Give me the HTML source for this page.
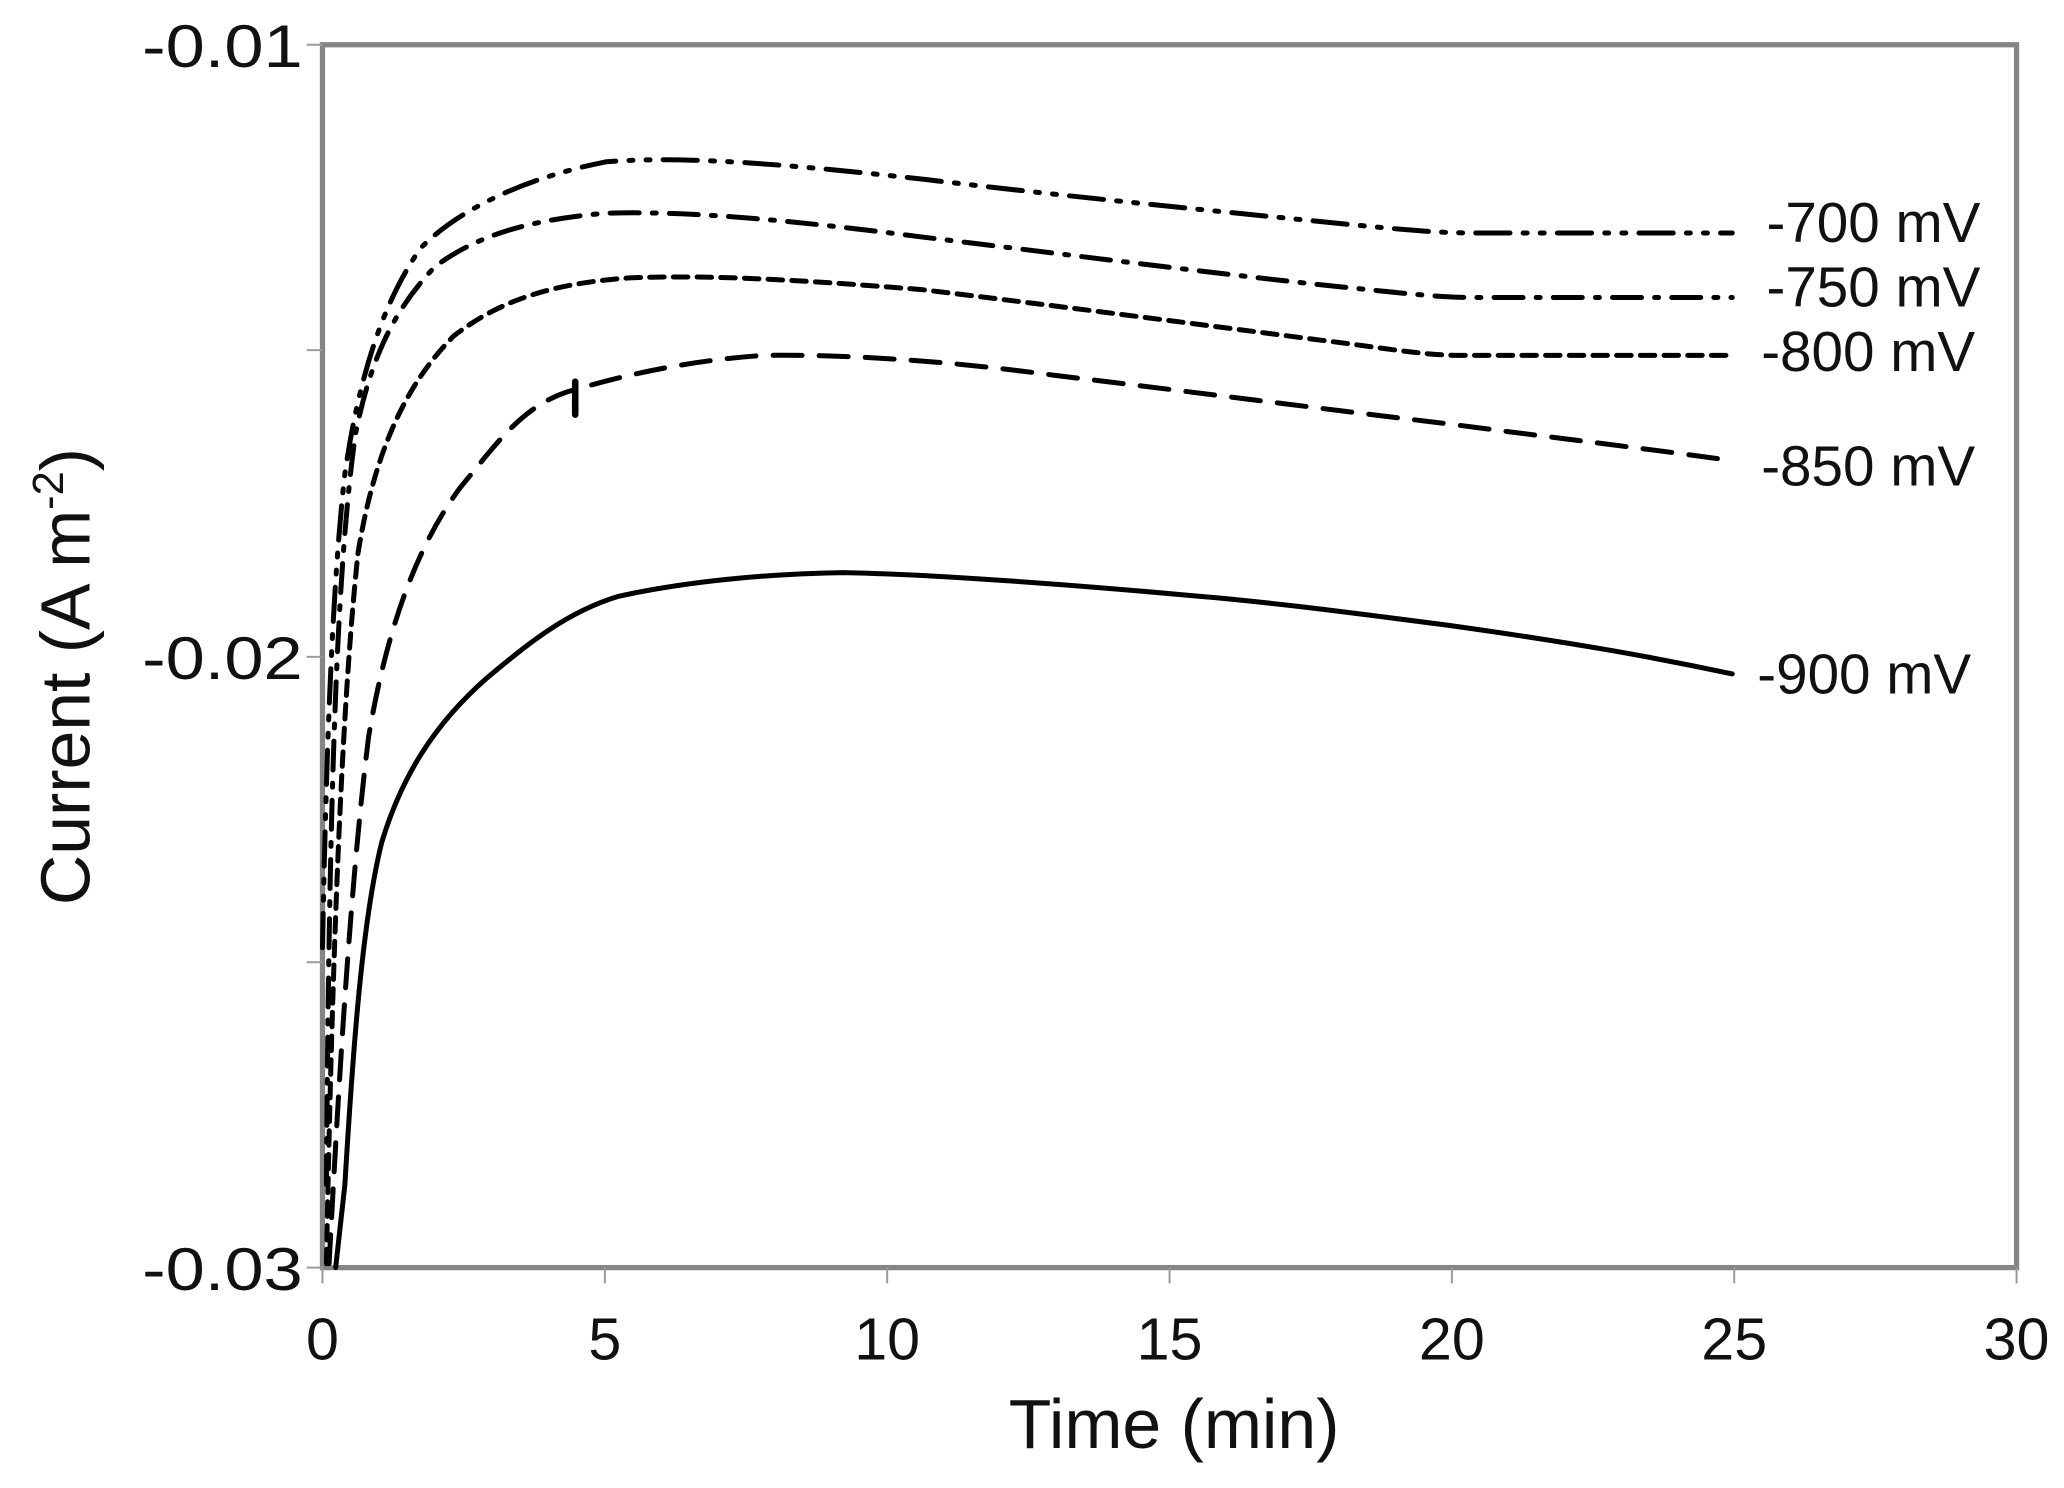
<!DOCTYPE html>
<html><head><meta charset="utf-8"><style>html,body{margin:0;padding:0;background:#fff;}svg{display:block}</style></head>
<body>
<svg width="2064" height="1488" viewBox="0 0 2064 1488" xmlns="http://www.w3.org/2000/svg">
<rect width="2064" height="1488" fill="#fff"/>
<g transform="scale(1.3163)" font-family="Liberation Sans, Arial, sans-serif" fill="#111">
  <rect x="245" y="34" width="1287" height="929" fill="none" stroke="#858585" stroke-width="4"/>
  <g stroke="#9a9a9a" stroke-width="1.5">
    <line x1="233" y1="34" x2="245" y2="34"/><line x1="233" y1="266" x2="245" y2="266"/>
    <line x1="233" y1="499" x2="245" y2="499"/><line x1="233" y1="731" x2="245" y2="731"/>
    <line x1="233" y1="963" x2="245" y2="963"/>
    <line x1="245" y1="963" x2="245" y2="975"/><line x1="459.5" y1="963" x2="459.5" y2="975"/>
    <line x1="674" y1="963" x2="674" y2="975"/><line x1="888.5" y1="963" x2="888.5" y2="975"/>
    <line x1="1103" y1="963" x2="1103" y2="975"/><line x1="1317.5" y1="963" x2="1317.5" y2="975"/>
    <line x1="1532" y1="963" x2="1532" y2="975"/>
  </g>
  <g font-size="46">
    <text x="108" y="51" textLength="122" lengthAdjust="spacingAndGlyphs">-0.01</text>
    <text x="108" y="516" textLength="122" lengthAdjust="spacingAndGlyphs">-0.02</text>
    <text x="108" y="980" textLength="122" lengthAdjust="spacingAndGlyphs">-0.03</text>
  </g>
  <g font-size="45" text-anchor="middle">
    <text x="245" y="1033">0</text><text x="459.5" y="1033">5</text><text x="674" y="1033">10</text>
    <text x="888.5" y="1033">15</text><text x="1103" y="1033">20</text><text x="1317.5" y="1033">25</text>
    <text x="1532" y="1033">30</text>
  </g>
  <text x="892" y="1100" font-size="53" text-anchor="middle">Time (min)</text>
  <text transform="translate(68,514) rotate(-90)" font-size="53" text-anchor="middle">Current (A m<tspan font-size="33" dy="-20">-2</tspan><tspan dy="20">)</tspan></text>
  <g fill="none" stroke="#000" stroke-width="3.8" stroke-linecap="round" stroke-linejoin="round">
    <path d="M255,963 L262,900 C268,800 275,700 290,640 C305,590 330,550 370,515 C400,490 430,465 470,453 C520,442 580,436 640,435 C700,436 800,443 900,452 C950,456 1000,462 1100,475 C1200,489 1260,500 1316,512"/>
    <path stroke-dasharray="22 13" d="M250,960 C256,850 265,680 280,560 C295,470 320,410 350,370 C375,340 395,310 430,298 C470,286 520,274 580,270 C640,269 720,274 800,285 C900,297 1000,310 1100,322 C1200,335 1260,342 1316,350"/>
    <path d="M437,290 L437,315" stroke-width="5"/>
    <path stroke-dasharray="11 7" d="M248,960 C251,800 257,560 272,420 C285,340 310,290 345,255 C380,228 420,215 480,211 C540,209 600,212 700,220 C800,232 900,245 1000,258 C1050,264 1080,270 1110,270 L1316,270"/>
    <path stroke-dasharray="22 10 3 10" d="M248,900 C250,600 256,430 270,330 C282,270 300,235 330,203 C360,180 400,167 460,162 C520,160 600,167 700,180 C800,192 900,205 1000,216 C1060,222 1090,226 1120,226 L1316,226"/>
    <path stroke-dasharray="26 10 3 10 3 10" d="M245,720 C248,560 253,440 262,360 C272,290 290,230 320,188 C350,158 400,135 460,123 C520,118 600,125 700,136 C800,148 900,158 1000,168 C1060,174 1090,177 1120,177 L1316,177"/>
  </g>
  <g font-size="43">
    <text x="1342" y="184">-700 mV</text>
    <text x="1342" y="233">-750 mV</text>
    <text x="1338" y="282">-800 mV</text>
    <text x="1338" y="369">-850 mV</text>
    <text x="1335" y="527">-900 mV</text>
  </g>
</g>
</svg>
</body></html>
